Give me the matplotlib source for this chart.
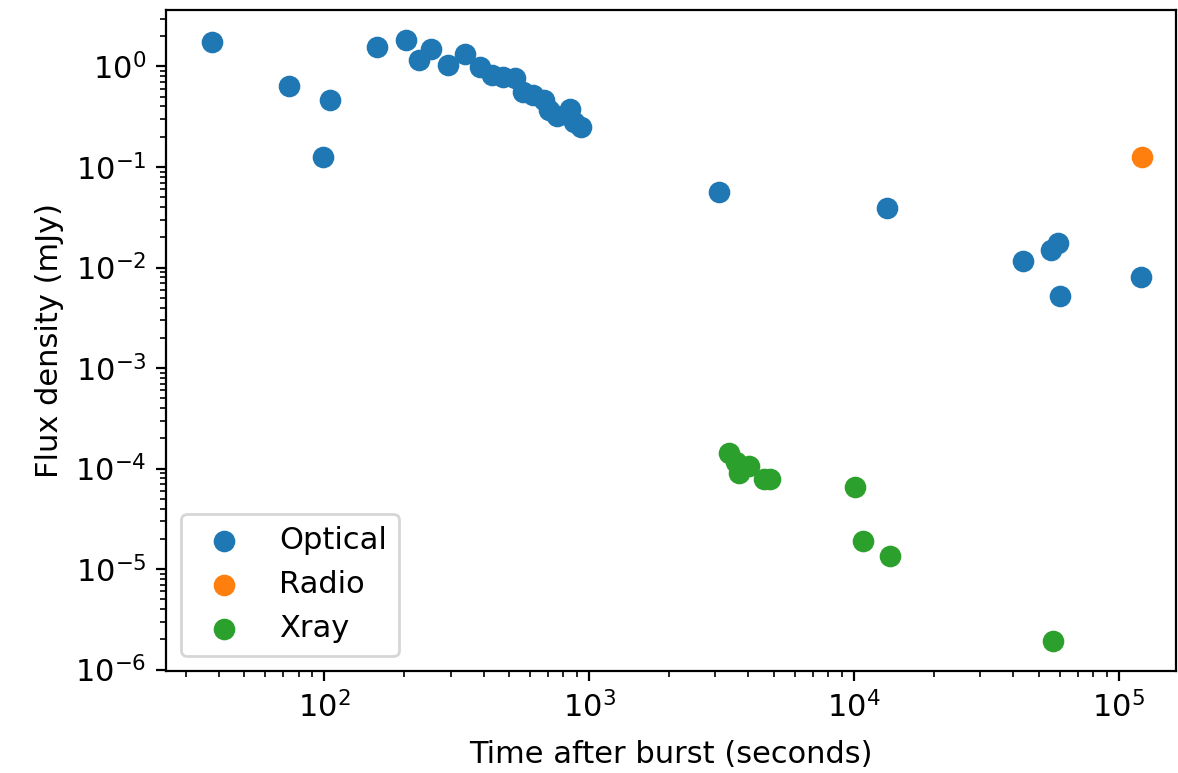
import numpy as np
import matplotlib
matplotlib.use("Agg")
import matplotlib.pyplot as plt

# optical light curve points
optical_t = [37.8, 73.8, 99, 105, 158, 204, 228, 253, 294, 340,
             388, 431, 474, 526, 562, 615, 676, 706, 755, 848, 878, 933,
             3100, 13300, 43500, 55300, 59000, 59900, 121000]
optical_f = [1.75, 0.64, 0.126, 0.465, 1.56, 1.83, 1.16, 1.49, 1.03, 1.33,
             0.995, 0.82, 0.79, 0.77, 0.56, 0.52, 0.465, 0.37, 0.32, 0.38, 0.283, 0.25,
             0.057, 0.039, 0.0117, 0.0151, 0.0177, 0.00526, 0.0081]

radio_t = [122000]
radio_f = [0.126]

xray_t = [3370, 3590, 3690, 4030, 4590, 4820, 10100, 10800, 13700, 56400]
xray_f = [1.44e-4, 1.16e-4, 9.1e-5, 1.06e-4, 7.8e-5, 7.8e-5, 6.6e-5, 1.9e-5, 1.35e-5, 1.93e-6]

plt.rcParams['font.size'] = 11
dpi = 200
fig = plt.figure(figsize=(1178 / dpi, 773 / dpi), dpi=dpi)
ax = fig.add_axes([0.141, 0.132, 0.857, 0.855])

ax.scatter(optical_t, optical_f, s=46, label="Optical")
ax.scatter(radio_t, radio_f, s=46, label="Radio")
ax.scatter(xray_t, xray_f, s=46, label="Xray")
ax.set_xscale("log")
ax.set_yscale("log")
ax.set_xlim(25.3, 1.64e5)
ax.set_xlabel("Time after burst (seconds)", labelpad=6)
ax.set_ylabel("Flux density (mJy)")
ax.legend(loc="lower left")

fig.savefig("out.png", dpi=dpi)
